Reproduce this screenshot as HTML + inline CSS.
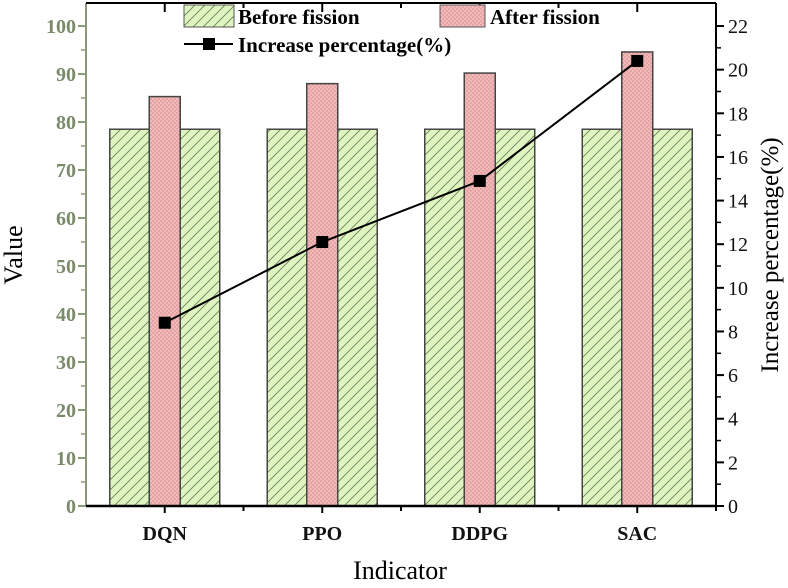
<!DOCTYPE html>
<html><head><meta charset="utf-8"><style>
html,body{margin:0;padding:0;background:#fff}
svg text{font-family:"Liberation Serif",serif}
</style></head><body>
<svg id="chart" width="788" height="583" xmlns="http://www.w3.org/2000/svg">
<defs>
<pattern id="hatch" patternUnits="userSpaceOnUse" width="10" height="10">
<rect width="10" height="10" fill="#dff5c0"/>
<path d="M0,10 L10,0 M-2,2 L2,-2 M8,12 L12,8" stroke="#6a7a5a" stroke-width="0.8"/>
</pattern>
<pattern id="dots" patternUnits="userSpaceOnUse" width="4" height="4">
<rect width="4" height="4" fill="#f4b8b8"/>
<circle cx="1" cy="1" r="0.7" fill="#c48888"/>
<circle cx="3" cy="3" r="0.7" fill="#c48888"/>
</pattern>
</defs>
<g id="plot"></g>
</svg>
<script>
const categories=["DQN","PPO","DDPG","SAC"];
const beforeValues=[78.5,78.5,78.5,78.5];
const afterValues=[85.3,88.0,90.2,94.6];
const increaseValues=[8.4,12.1,14.9,20.4];
const leftTicks=[0,10,20,30,40,50,60,70,80,90,100];
const rightTicks=[0,2,4,6,8,10,12,14,16,18,20,22];

const NS="http://www.w3.org/2000/svg";
const L=86,R=716,T=3,B=506;
const leftMax=104.8, rightMax=leftMax*0.22;
const yL=v=>B-(v/leftMax)*(B-T);
const yR=v=>B-(v/rightMax)*(B-T);
const band=(R-L)/categories.length;
const xC=i=>L+band*(i+0.5);
const g=document.getElementById('plot');
function mk(tag,attrs,parent){const e=document.createElementNS(NS,tag);for(const k in attrs)e.setAttribute(k,attrs[k]);(parent||g).appendChild(e);return e;}

categories.forEach((c,i)=>{
  const b=mk('rect',{x:xC(i)-55,y:yL(beforeValues[i]),width:110,height:B-yL(beforeValues[i]),fill:'url(#hatch)',stroke:'#444',"stroke-width":1.5});
  
  
  const a=mk('rect',{x:xC(i)-15.5,y:yL(afterValues[i]),width:31,height:B-yL(afterValues[i]),fill:'url(#dots)',stroke:'#444',"stroke-width":1.5});
  
  
  const t=mk('text',{x:xC(i),y:540,"text-anchor":"middle","font-size":20,"font-weight":"bold",fill:"#111"});
  t.textContent=c;
  
  
  mk('line',{x1:xC(i),x2:xC(i),y1:B,y2:B+7,stroke:'#000',"stroke-width":2});
  mk('line',{x1:xC(i),x2:xC(i),y1:T,y2:T+9,stroke:'#000',"stroke-width":2});
  mk('line',{x1:L+band*(i+1),x2:L+band*(i+1),y1:B,y2:B+5,stroke:'#000',"stroke-width":2});
  mk('line',{x1:L+band*(i+1),x2:L+band*(i+1),y1:T,y2:T+5,stroke:'#000',"stroke-width":2});
});
const pts=increaseValues.map((v,i)=>xC(i)+','+yR(v)).join(' ');
const pl=mk('polyline',{points:pts,fill:'none',stroke:'#000',"stroke-width":2});


increaseValues.forEach((v,i)=>{
  const m=mk('rect',{x:xC(i)-6,y:yR(v)-6,width:12,height:12,fill:'#000'});
  
  
});
mk('line',{x1:L,x2:L,y1:T,y2:B,stroke:'#8a9a78',"stroke-width":2});
mk('line',{x1:R,x2:R,y1:T,y2:B,stroke:'#000',"stroke-width":2});
mk('line',{x1:L,x2:R,y1:B,y2:B,stroke:'#000',"stroke-width":2.5});
mk('line',{x1:L,x2:R,y1:T,y2:T,stroke:'#000',"stroke-width":2});
leftTicks.forEach(v=>{
  mk('line',{x1:L-8,x2:L,y1:yL(v),y2:yL(v),stroke:'#8a9a78',"stroke-width":2});
  if(v<100)mk('line',{x1:L-5,x2:L,y1:yL(v+5),y2:yL(v+5),stroke:'#8a9a78',"stroke-width":1.5});
  const t=mk('text',{x:L-10,y:yL(v)+7,"text-anchor":"end","font-size":20,"font-weight":"bold",fill:"#7a8a6a"});
  t.textContent=v;
  
  
});
rightTicks.forEach(v=>{
  mk('line',{x1:R,x2:R+8,y1:yR(v),y2:yR(v),stroke:'#000',"stroke-width":2});
  if(v<22)mk('line',{x1:R,x2:R+5,y1:yR(v+1),y2:yR(v+1),stroke:'#000',"stroke-width":1.5});
  const t=mk('text',{x:R+12,y:yR(v)+7,"text-anchor":"start","font-size":20,fill:"#111"});
  t.textContent=v;
  
  
});
let t=mk('text',{x:0,y:0,transform:'translate(22,255) rotate(-90)',"text-anchor":"middle","font-size":26,fill:'#000'});
t.textContent='Value';
t=mk('text',{x:0,y:0,transform:'translate(778,255) rotate(-90)',"text-anchor":"middle","font-size":25,fill:'#000'});
t.textContent='Increase percentage(%)';
t=mk('text',{x:400,y:579,"text-anchor":"middle","font-size":26,fill:'#000'});
t.textContent='Indicator';
const lg=mk('g',{});


mk('rect',{x:184,y:5,width:50,height:22,fill:'url(#hatch)',stroke:'#555'},lg);
t=mk('text',{x:238,y:24,"font-size":21,"font-weight":"bold",fill:'#000'},lg);t.textContent='Before fission';

mk('rect',{x:440,y:5,width:45,height:22,fill:'url(#dots)',stroke:'#555'},lg);
t=mk('text',{x:490,y:24,"font-size":21,"font-weight":"bold",fill:'#000'},lg);t.textContent='After fission';

mk('line',{x1:184,x2:233,y1:44,y2:44,stroke:'#000',"stroke-width":2},lg);
mk('rect',{x:203,y:38,width:12,height:12,fill:'#000'},lg);
t=mk('text',{x:238,y:52,"font-size":21,"font-weight":"bold",fill:'#000'},lg);t.textContent='Increase percentage(%)';

</script>
</body></html>
